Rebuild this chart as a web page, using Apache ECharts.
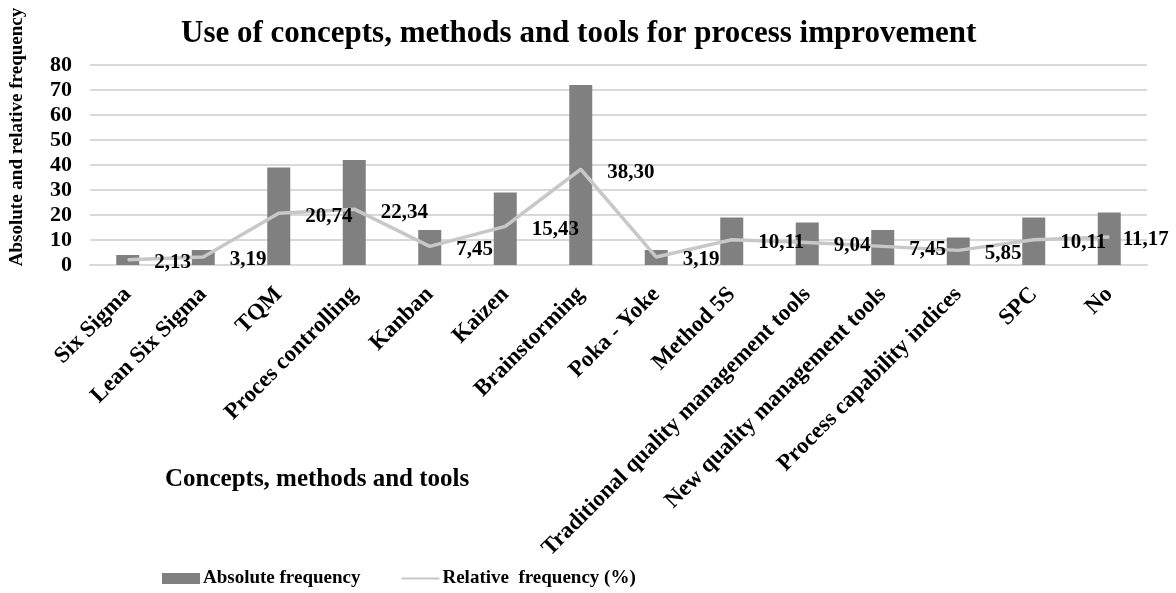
<!DOCTYPE html>
<html>
<head>
<meta charset="utf-8">
<script src="https://cdn.jsdelivr.net/npm/echarts@6/dist/echarts.min.js"></script>
<style>
  html, body { margin: 0; padding: 0; background: #fff; }
  #chart { width: 1176px; height: 593px; }
</style>
</head>
<body>
<div id="chart"></div>
<script>
// Data
const categories = [
  'Six Sigma', 'Lean Six Sigma', 'TQM', 'Proces controlling', 'Kanban', 'Kaizen',
  'Brainstorming', 'Poka - Yoke', 'Method 5S', 'Traditional quality management tools',
  'New quality management tools', 'Process capability indices', 'SPC', 'No'
]
const absoluteFreq = [4, 6, 39, 42, 14, 29, 72, 6, 19, 17, 14, 11, 19, 21]
const relativeFreq = [2.13, 3.19, 20.74, 22.34, 7.45, 15.43, 38.30, 3.19, 10.11, 9.04, 7.45, 5.85, 10.11, 11.17]
const yTicks = [0, 10, 20, 30, 40, 50, 60, 70, 80]

const FONT = '"Liberation Serif", "Times New Roman", serif'

const chart = echarts.init(document.getElementById('chart'))

const lineData = relativeFreq.map((v, i) => {
  // last label sits closer to its point so it fits in the frame
  if (i === relativeFreq.length - 1) return { value: v, label: { distance: 13 } }
  return v
})

chart.setOption({
  backgroundColor: '#fff',
  animation: false,
  title: [
    {
      text: 'Use of concepts, methods and tools for process improvement',
      left: 176,
      top: 13,
      textStyle: { fontFamily: FONT, fontWeight: 'bold', fontSize: 31, color: '#000' }
    },
    {
      text: 'Concepts, methods and tools',
      left: 160,
      top: 462,
      textStyle: { fontFamily: FONT, fontWeight: 'bold', fontSize: 25, color: '#000' }
    }
  ],
  graphic: [{
    type: 'text',
    x: 17,
    y: 137,
    rotation: Math.PI / 2,
    style: {
      text: 'Absolute and relative frequency',
      font: 'bold 19px ' + FONT,
      fill: '#000',
      align: 'center',
      verticalAlign: 'middle'
    }
  }],
  legend: {
    left: 157,
    bottom: 0,
    itemWidth: 38,
    itemHeight: 11,
    itemGap: 40,
    textStyle: { fontFamily: FONT, fontWeight: 'bold', fontSize: 19, color: '#000', padding: [0, 0, 0, -2] },
    data: [
      { name: 'Absolute frequency', icon: 'rect' },
      { name: 'Relative  frequency (%)', itemStyle: { opacity: 0 } }
    ]
  },
  grid: { left: 90, right: 29, top: 65, bottom: 328 },
  xAxis: {
    type: 'category',
    data: categories,
    axisLine: { lineStyle: { color: '#d9d9d9', width: 2 } },
    axisTick: { show: false },
    axisLabel: {
      rotate: 45,
      interval: 0,
      margin: 26,
      fontFamily: FONT,
      fontWeight: 'bold',
      fontSize: 23,
      color: '#000'
    }
  },
  yAxis: {
    type: 'value',
    min: 0,
    max: 80,
    interval: 10,
    axisLine: { show: false },
    axisTick: { show: false },
    splitLine: { lineStyle: { color: '#d9d9d9', width: 2 } },
    axisLabel: {
      margin: 18,
      fontFamily: FONT,
      fontWeight: 'bold',
      fontSize: 22,
      color: '#000',
      formatter: v => (yTicks.includes(v) ? String(v) : '')
    }
  },
  series: [
    {
      name: 'Absolute frequency',
      type: 'bar',
      data: absoluteFreq,
      barWidth: 23,
      itemStyle: { color: '#808080' }
    },
    {
      name: 'Relative  frequency (%)',
      type: 'line',
      data: lineData,
      symbol: 'circle',
      symbolSize: 1,
      itemStyle: { color: '#c8c8c8' },
      lineStyle: { color: '#c8c8c8', width: 3.5 },
      label: {
        show: true,
        position: 'right',
        distance: 26,
        offset: [0, 3],
        fontFamily: FONT,
        fontWeight: 'bold',
        fontSize: 21,
        color: '#000',
        formatter: p => p.value.toFixed(2).replace('.', ',')
      }
    }
  ]
})
</script>
</body>
</html>
